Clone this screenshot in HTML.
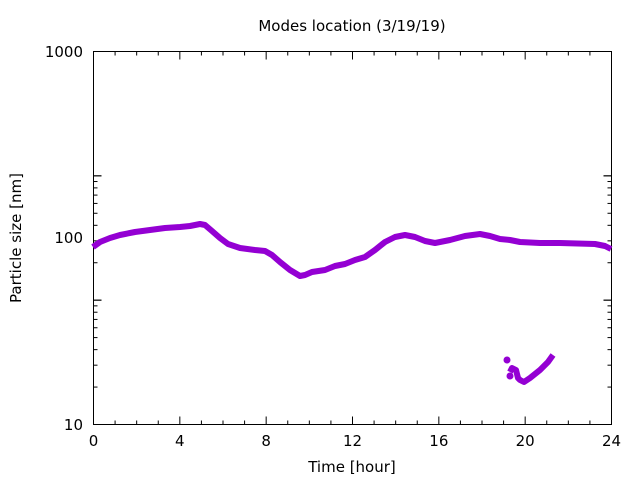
<!DOCTYPE html>
<html><head><meta charset="utf-8"><style>
body{margin:0;background:#fff;}
svg{display:block;font-family:"DejaVu Sans","Liberation Sans",sans-serif;}
</style></head><body>
<svg id="s" width="640" height="480" xmlns="http://www.w3.org/2000/svg">
<rect width="640" height="480" fill="#fff"/>
<text x="352" y="31" font-size="15" text-anchor="middle">Modes location (3/19/19)</text>
<text x="352" y="472" font-size="15" text-anchor="middle">Time [hour]</text>
<text transform="translate(21,238) rotate(-90)" font-size="15" text-anchor="middle">Particle size [nm]</text>
<g font-size="15" text-anchor="end">
<text x="83" y="57">1000</text><text x="83" y="243">100</text><text x="83" y="430">10</text>
</g>
<g font-size="15" text-anchor="middle" id="xl"></g>
<g id="ticks" stroke="#000" stroke-width="1"></g>
<rect x="93.5" y="51.5" width="518" height="373" fill="none" stroke="#000" stroke-width="1"/>
<polyline fill="none" stroke="#9400d3" stroke-width="6" stroke-linejoin="round"
points="93,247 100,242 110,238 120,235 135,232 150,230 165,228 180,227 190,226 200,224 205,225 212,231 220,238 228,244 240,248 255,250 265,251 272,255 280,262 290,270 300,276 305,275 312,272 325,270 335,266 345,264 355,260 365,257 375,250 385,242 395,237 405,235 415,237 425,241 435,243 450,240 465,236 480,234 490,236 500,239 510,240 520,242 540,243 560,243 595,244 605,246 611,249"/>
<polyline fill="none" stroke="#9400d3" stroke-width="6" stroke-linejoin="round"
points="510,372 512,368 516,370 518,378 520,380 524,382 530,378 540,370 548,362 553,355"/>
<circle cx="507" cy="360" r="3.5" fill="#9400d3"/>
<circle cx="510" cy="376" r="3.5" fill="#9400d3"/>
</svg>
<script>
var g=document.getElementById('ticks'),xl=document.getElementById('xl'),ns='http://www.w3.org/2000/svg';
function L(x1,y1,x2,y2){var l=document.createElementNS(ns,'line');l.setAttribute('x1',x1);l.setAttribute('y1',y1);l.setAttribute('x2',x2);l.setAttribute('y2',y2);g.appendChild(l);}
var x0=93.5,x1=611.5,y0=424.5,yt=51.5;
for(var h=0;h<=24;h++){var x=x0+(x1-x0)*h/24;var len=(h%4==0)?8:4;L(x,y0,x,y0-len);L(x,yt,x,yt+len);
if(h%4==0){var t=document.createElementNS(ns,'text');t.setAttribute('x',x);t.setAttribute('y',446);t.textContent=h;xl.appendChild(t);}}
for(var d=0;d<3;d++)for(var m=1;m<=10;m++){if(d==2&&m>1)break;var v=d+Math.log10(m);var y=y0-(y0-yt)*v/3;var len=(m==1||m==10)?8:4;L(x0,y,x0+len,y);L(x1,y,x1-len,y);}
</script>
</body></html>
